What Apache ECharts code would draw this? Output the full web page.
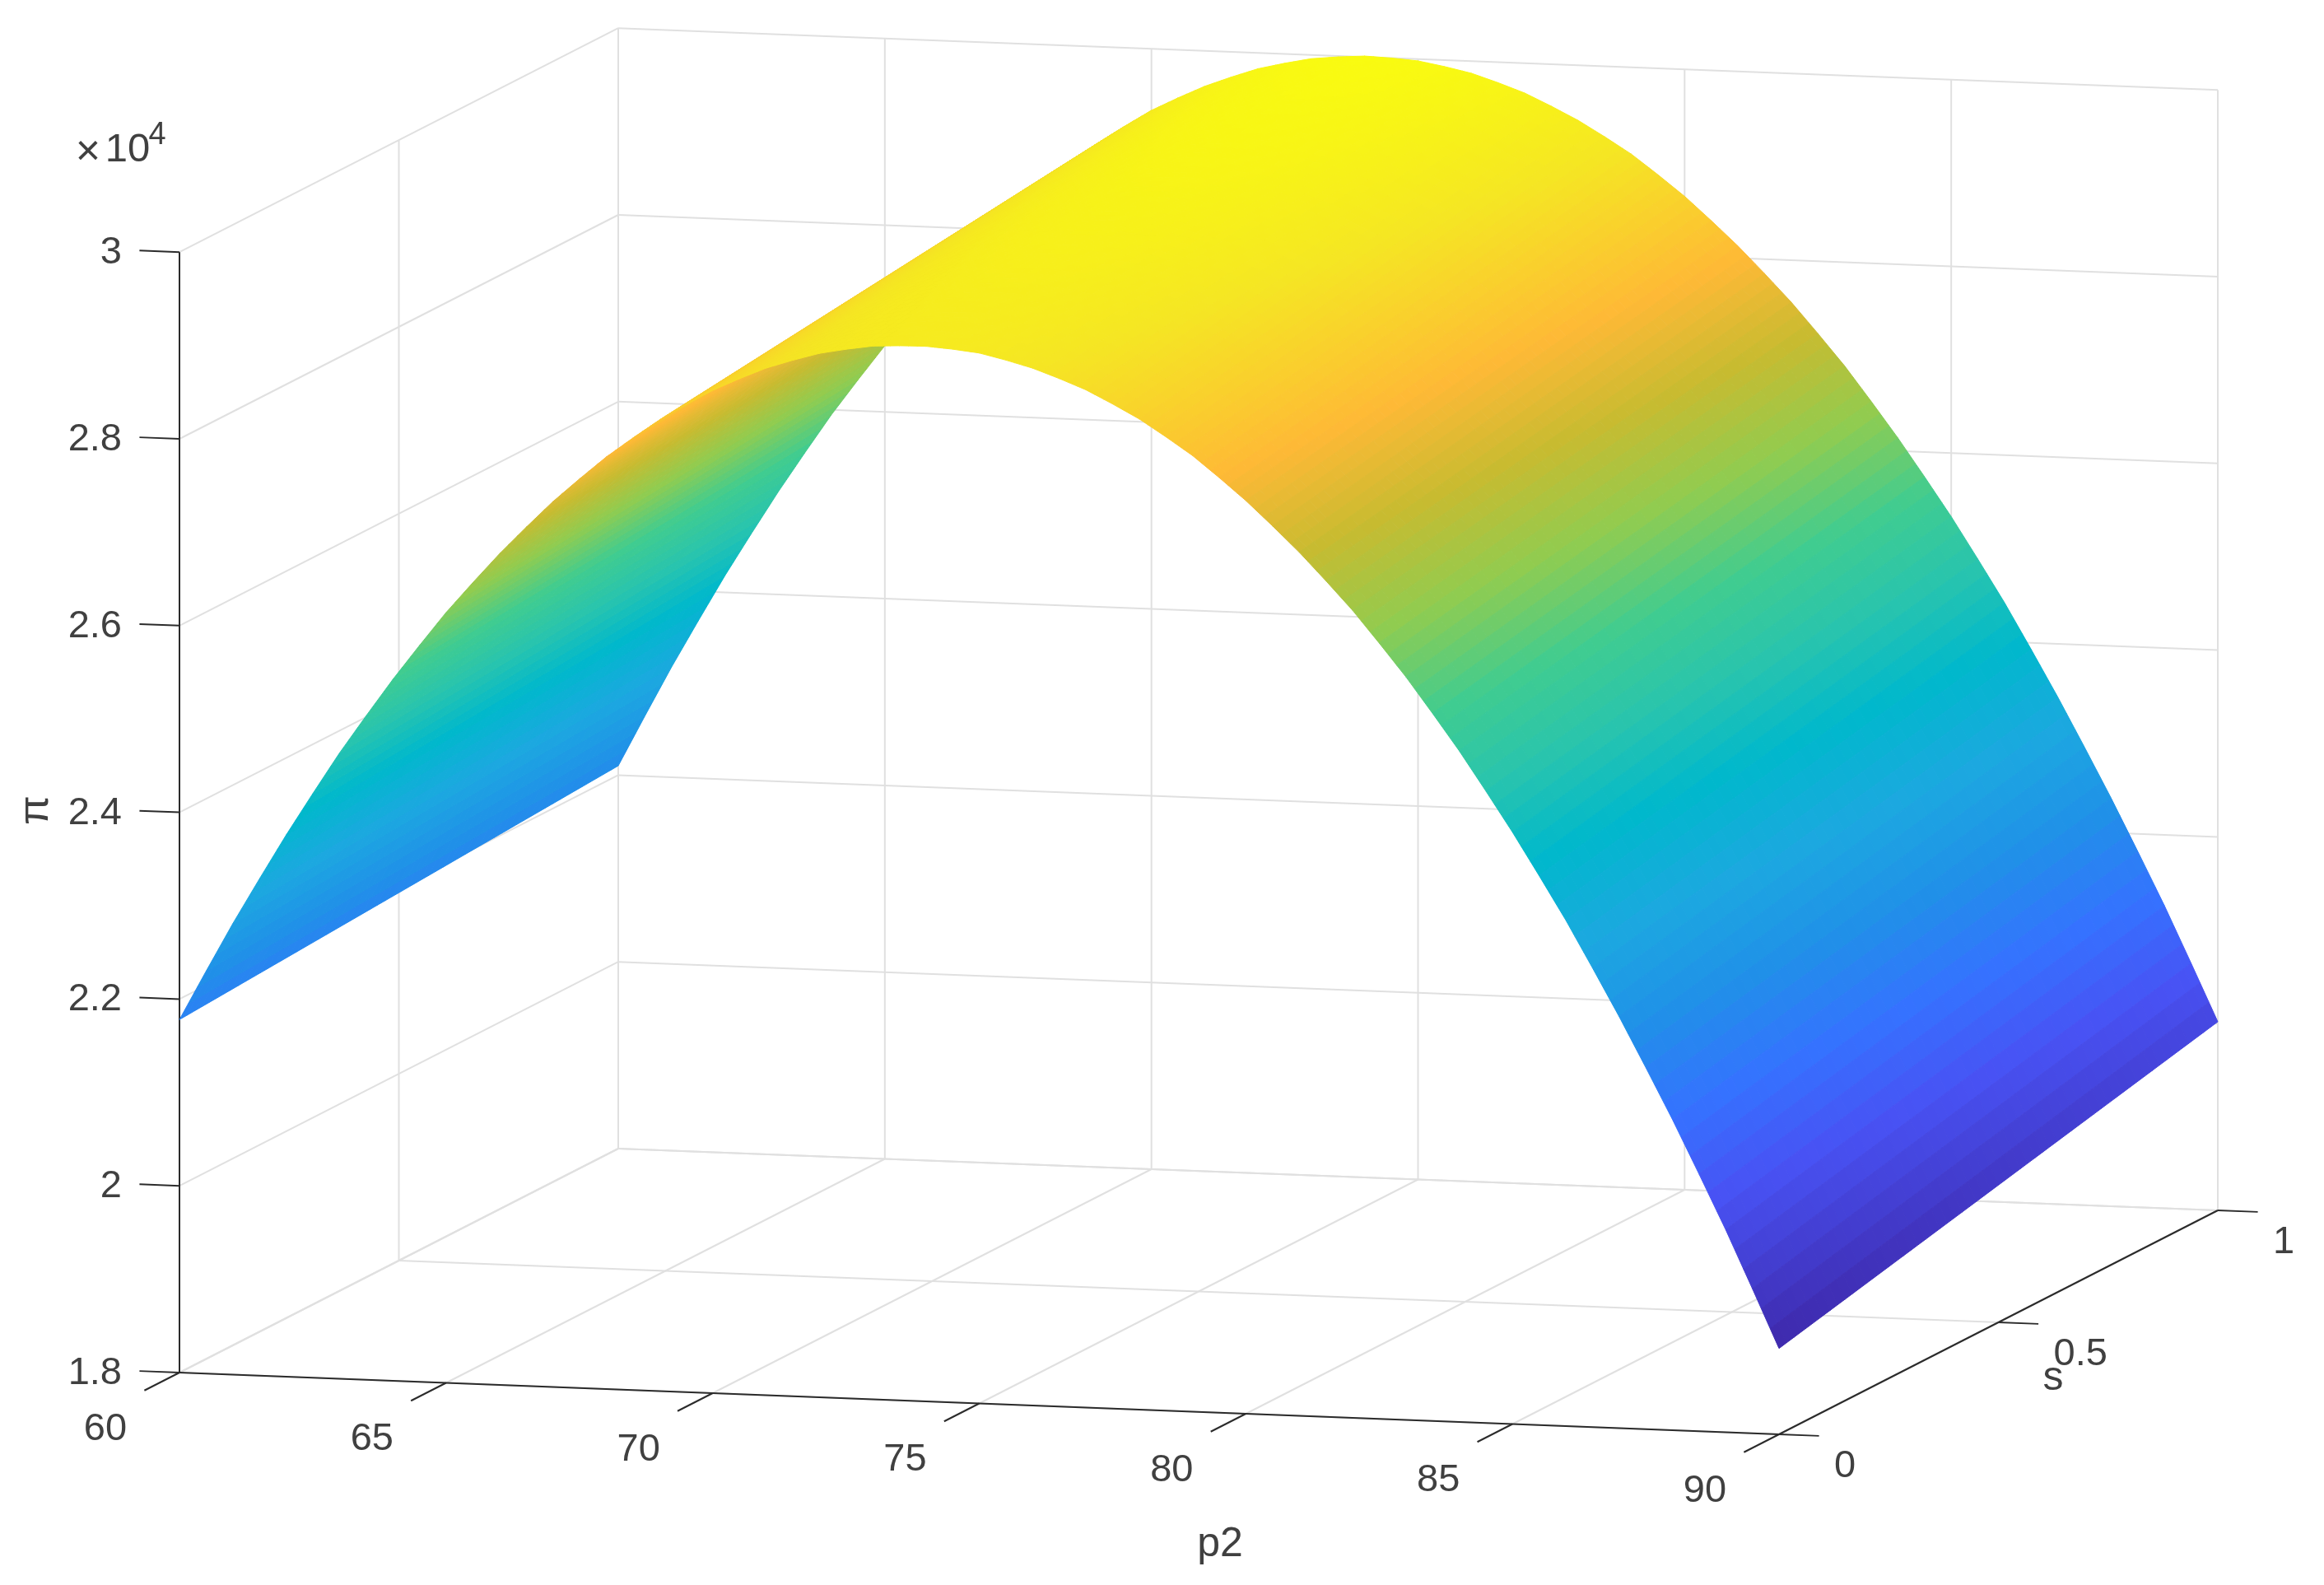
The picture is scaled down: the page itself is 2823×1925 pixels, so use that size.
<!DOCTYPE html>
<html>
<head>
<meta charset="utf-8">
<title>pi surface</title>
<style>
  html, body { margin: 0; padding: 0; background: #fff; }
  #chart { width: 2823px; height: 1925px; }
</style>
<script src="https://cdn.jsdelivr.net/npm/echarts@6/dist/echarts.min.js"></script>
</head>
<body>
<div id="chart"></div>
<script>
// surface values
const p2Values = [60, 60.5, 61, 61.5, 62, 62.5, 63, 63.5, 64, 64.5,
  65, 65.5, 66, 66.5, 67, 67.5, 68, 68.5, 69, 69.5,
  70, 70.5, 71, 71.5, 72, 72.5, 73, 73.5, 74, 74.5,
  75, 75.5, 76, 76.5, 77, 77.5, 78, 78.5, 79, 79.5,
  80, 80.5, 81, 81.5, 82, 82.5, 83, 83.5, 84, 84.5,
  85, 85.5, 86, 86.5, 87, 87.5, 88, 88.5, 89, 89.5, 90];
const sValues = [0, 1];
const piAtS0 = [21780, 22310, 22830, 23320, 23800, 24255, 24700, 25110, 25510, 25885,
  26250, 26580, 26900, 27195, 27480, 27735, 27980, 28195, 28400, 28575,
  28740, 28875, 29000, 29095, 29180, 29235, 29280, 29295, 29300, 29280,
  29250, 29185, 29110, 29010, 28900, 28760, 28610, 28430, 28240, 28015,
  27780, 27520, 27250, 26955, 26650, 26310, 25960, 25580, 25190, 24770,
  24340, 23885, 23420, 22920, 22410, 21875, 21330, 20755, 20170, 19550, 18920];
const piAtS1 = [22100, 22645, 23180, 23685, 24180, 24645, 25100, 25530, 25950, 26335,
  26710, 27055, 27390, 27700, 28000, 28265, 28520, 28750, 28970, 29160,
  29340, 29485, 29620, 29730, 29830, 29900, 29960, 29990, 30010, 30000,
  29980, 29930, 29870, 29780, 29680, 29550, 29410, 29245, 29070, 28860,
  28640, 28390, 28130, 27845, 27550, 27225, 26890, 26520, 26140, 25735,
  25320, 24875, 24420, 23930, 23430, 22905, 22370, 21810, 21240, 20635, 20020];

// axis ticks
const p2Ticks = [60, 65, 70, 75, 80, 85, 90];
const sTicks = [0, 0.5, 1];
const piTicks = [1.8, 2, 2.2, 2.4, 2.6, 2.8, 3];
const p2TickLabels = ["60", "65", "70", "75", "80", "85", "90"];
const sTickLabels = ["0", "0.5", "1"];
const piTickLabels = ["1.8", "2", "2.2", "2.4", "2.6", "2.8", "3"];

// parula, stops
const colorStops = [0, 0.14, 0.22, 0.3, 0.38, 0.46, 0.53, 0.6, 0.675, 0.75, 0.82, 0.92, 1];
const colorHex = ["#3e28aa", "#4852f4", "#3572ff", "#2090e8", "#1ca8e0", "#00b8cc", "#28c4ae",
  "#40cc90", "#90cc50", "#c8bb30", "#feb936", "#f5e623", "#f9fb10"];

const FONT = '"Liberation Sans", Arial, sans-serif';
const TEXT_COLOR = "#404040";
const AXIS_COLOR = "#2b2b2b";
const GRID_COLOR = "#e0e0e0";

// MATLAB view is orthographic, so the box is just an affine map to the page
function project(p, s, z) {
  return [
    218 + (1943 * (p - 60)) / 30 + 533 * s,
    1667 + (75 * (p - 60)) / 30 - 272 * s - (z - 1.8) * 1134
  ];
}

const piMin = Math.min(...piAtS0, ...piAtS1);
const piMax = Math.max(...piAtS0, ...piAtS1);

function hexToRgb(hex) {
  return [1, 3, 5].map(k => parseInt(hex.substr(k, 2), 16));
}
const colorRgb = colorHex.map(hexToRgb);

function colorOf(pi) {
  const t = (pi - piMin) / (piMax - piMin);
  let i = 0;
  while (i < colorStops.length - 2 && t > colorStops[i + 1]) i++;
  const f = (t - colorStops[i]) / (colorStops[i + 1] - colorStops[i]);
  const rgb = colorRgb[i].map((c, k) => Math.round(c + (colorRgb[i + 1][k] - c) * f));
  return "rgb(" + rgb.join(",") + ")";
}

// line segments of the box, each one [p, s, z, p, s, z]
const gridSegments = [];
p2Ticks.forEach(p => {
  gridSegments.push([p, 1, 1.8, p, 1, 3]);
  gridSegments.push([p, 0, 1.8, p, 1, 1.8]);
});
sTicks.forEach(s => {
  gridSegments.push([60, s, 1.8, 60, s, 3]);
  gridSegments.push([60, s, 1.8, 90, s, 1.8]);
});
piTicks.forEach(z => {
  gridSegments.push([60, 1, z, 90, 1, z]);
  gridSegments.push([60, 0, z, 60, 1, z]);
});

const axisSegments = [
  [60, 0, 1.8, 60, 0, 3],
  [60, 0, 1.8, 90, 0, 1.8],
  [90, 0, 1.8, 90, 1, 1.8]
];
piTicks.forEach(z => axisSegments.push([60, 0, z, 59.25, 0, z]));
p2Ticks.forEach(p => axisSegments.push([p, 0, 1.8, p, -0.08, 1.8]));
sTicks.forEach(s => axisSegments.push([90, s, 1.8, 90.75, s, 1.8]));

function renderSegment(color, api) {
  const seg = [0, 1, 2, 3, 4, 5].map(d => api.value(d));
  const a = api.coord(project(seg[0], seg[1], seg[2]));
  const b = api.coord(project(seg[3], seg[4], seg[5]));
  return {
    type: "line",
    shape: { x1: a[0], y1: a[1], x2: b[0], y2: b[1] },
    style: { stroke: color, lineWidth: 2 },
    silent: true
  };
}

// one cell between two p2 values, cut up fine so the colour looks interpolated
const P_STEPS = 3;
const S_STEPS = 60;
function renderCell(params, api) {
  const i = params.dataIndex;
  const children = [];
  const point = (u, v) => {
    const s = sValues[0] + (sValues[1] - sValues[0]) * v;
    const p = p2Values[i] + (p2Values[i + 1] - p2Values[i]) * u;
    const lo = piAtS0[i] + (piAtS0[i + 1] - piAtS0[i]) * u;
    const hi = piAtS1[i] + (piAtS1[i + 1] - piAtS1[i]) * u;
    const pi = lo + (hi - lo) * v;
    return { xy: api.coord(project(p, s, pi / 10000)), pi: pi };
  };
  // far to near: s = 1 first, and low p2 first
  for (let a = 0; a < P_STEPS; a++) {
    for (let b = S_STEPS - 1; b >= 0; b--) {
      const c1 = point(a / P_STEPS, b / S_STEPS);
      const c2 = point((a + 1) / P_STEPS, b / S_STEPS);
      const c3 = point((a + 1) / P_STEPS, (b + 1) / S_STEPS);
      const c4 = point(a / P_STEPS, (b + 1) / S_STEPS);
      const color = colorOf((c1.pi + c2.pi + c3.pi + c4.pi) / 4);
      children.push({
        type: "polygon",
        shape: { points: [c1.xy, c2.xy, c3.xy, c4.xy] },
        style: { fill: color, stroke: color, lineWidth: 1 },
        silent: true
      });
    }
  }
  return { type: "group", children: children };
}

function textEl(x, y, text, size, align, rotation) {
  return {
    type: "text",
    x: x,
    y: y,
    rotation: rotation || 0,
    style: {
      text: text,
      x: 0,
      y: 0,
      fill: TEXT_COLOR,
      font: size + "px " + FONT,
      align: align || "center",
      verticalAlign: "middle"
    },
    silent: true
  };
}

function renderLabels(params, api) {
  const children = [];
  const at = (p, s, z) => api.coord(project(p, s, z));
  p2Ticks.forEach((p, i) => {
    const a = at(p, 0, 1.8);
    children.push(textEl(a[0] - 90, a[1] + 69, p2TickLabels[i], 47));
  });
  sTicks.forEach((s, i) => {
    const a = at(90, s, 1.8);
    children.push(textEl(a[0] + 67, a[1] + 39, sTickLabels[i], 47, "left"));
  });
  piTicks.forEach((z, i) => {
    const a = at(60, 0, z);
    children.push(textEl(a[0] - 70, a[1] + 1, piTickLabels[i], 47, "right"));
  });
  const origin = api.coord([0, 0]);
  children.push(textEl(origin[0] + 1482, origin[1] + 1876, "p2", 50));
  children.push(textEl(origin[0] + 2494, origin[1] + 1674, "s", 50));
  children.push(textEl(origin[0] + 44, origin[1] + 984, "π", 52, "center", Math.PI / 2));
  children.push(textEl(origin[0] + 107, origin[1] + 186, "×", 52));
  children.push(textEl(origin[0] + 155, origin[1] + 182, "10", 49));
  children.push(textEl(origin[0] + 191, origin[1] + 165, "4", 38));
  return { type: "group", children: children };
}

const chart = echarts.init(document.getElementById("chart"));
chart.setOption({
  backgroundColor: "#ffffff",
  animation: false,
  grid: { left: 0, right: 0, top: 0, bottom: 0 },
  xAxis: { type: "value", min: 0, max: 2823, show: false },
  yAxis: { type: "value", min: 0, max: 1925, inverse: true, show: false },
  series: [
    {
      name: "grid",
      type: "custom",
      coordinateSystem: "cartesian2d",
      clip: false,
      progressive: 0,
      data: gridSegments,
      renderItem: (params, api) => renderSegment(GRID_COLOR, api)
    },
    {
      name: "axes",
      type: "custom",
      coordinateSystem: "cartesian2d",
      clip: false,
      progressive: 0,
      data: axisSegments,
      renderItem: (params, api) => renderSegment(AXIS_COLOR, api)
    },
    {
      name: "π",
      type: "custom",
      coordinateSystem: "cartesian2d",
      clip: false,
      progressive: 0,
      data: p2Values.slice(0, -1).map((p, i) => [p, piAtS0[i], piAtS1[i]]),
      renderItem: renderCell
    },
    {
      name: "labels",
      type: "custom",
      coordinateSystem: "cartesian2d",
      clip: false,
      progressive: 0,
      data: [[0]],
      renderItem: renderLabels
    }
  ]
});
</script>
</body>
</html>
